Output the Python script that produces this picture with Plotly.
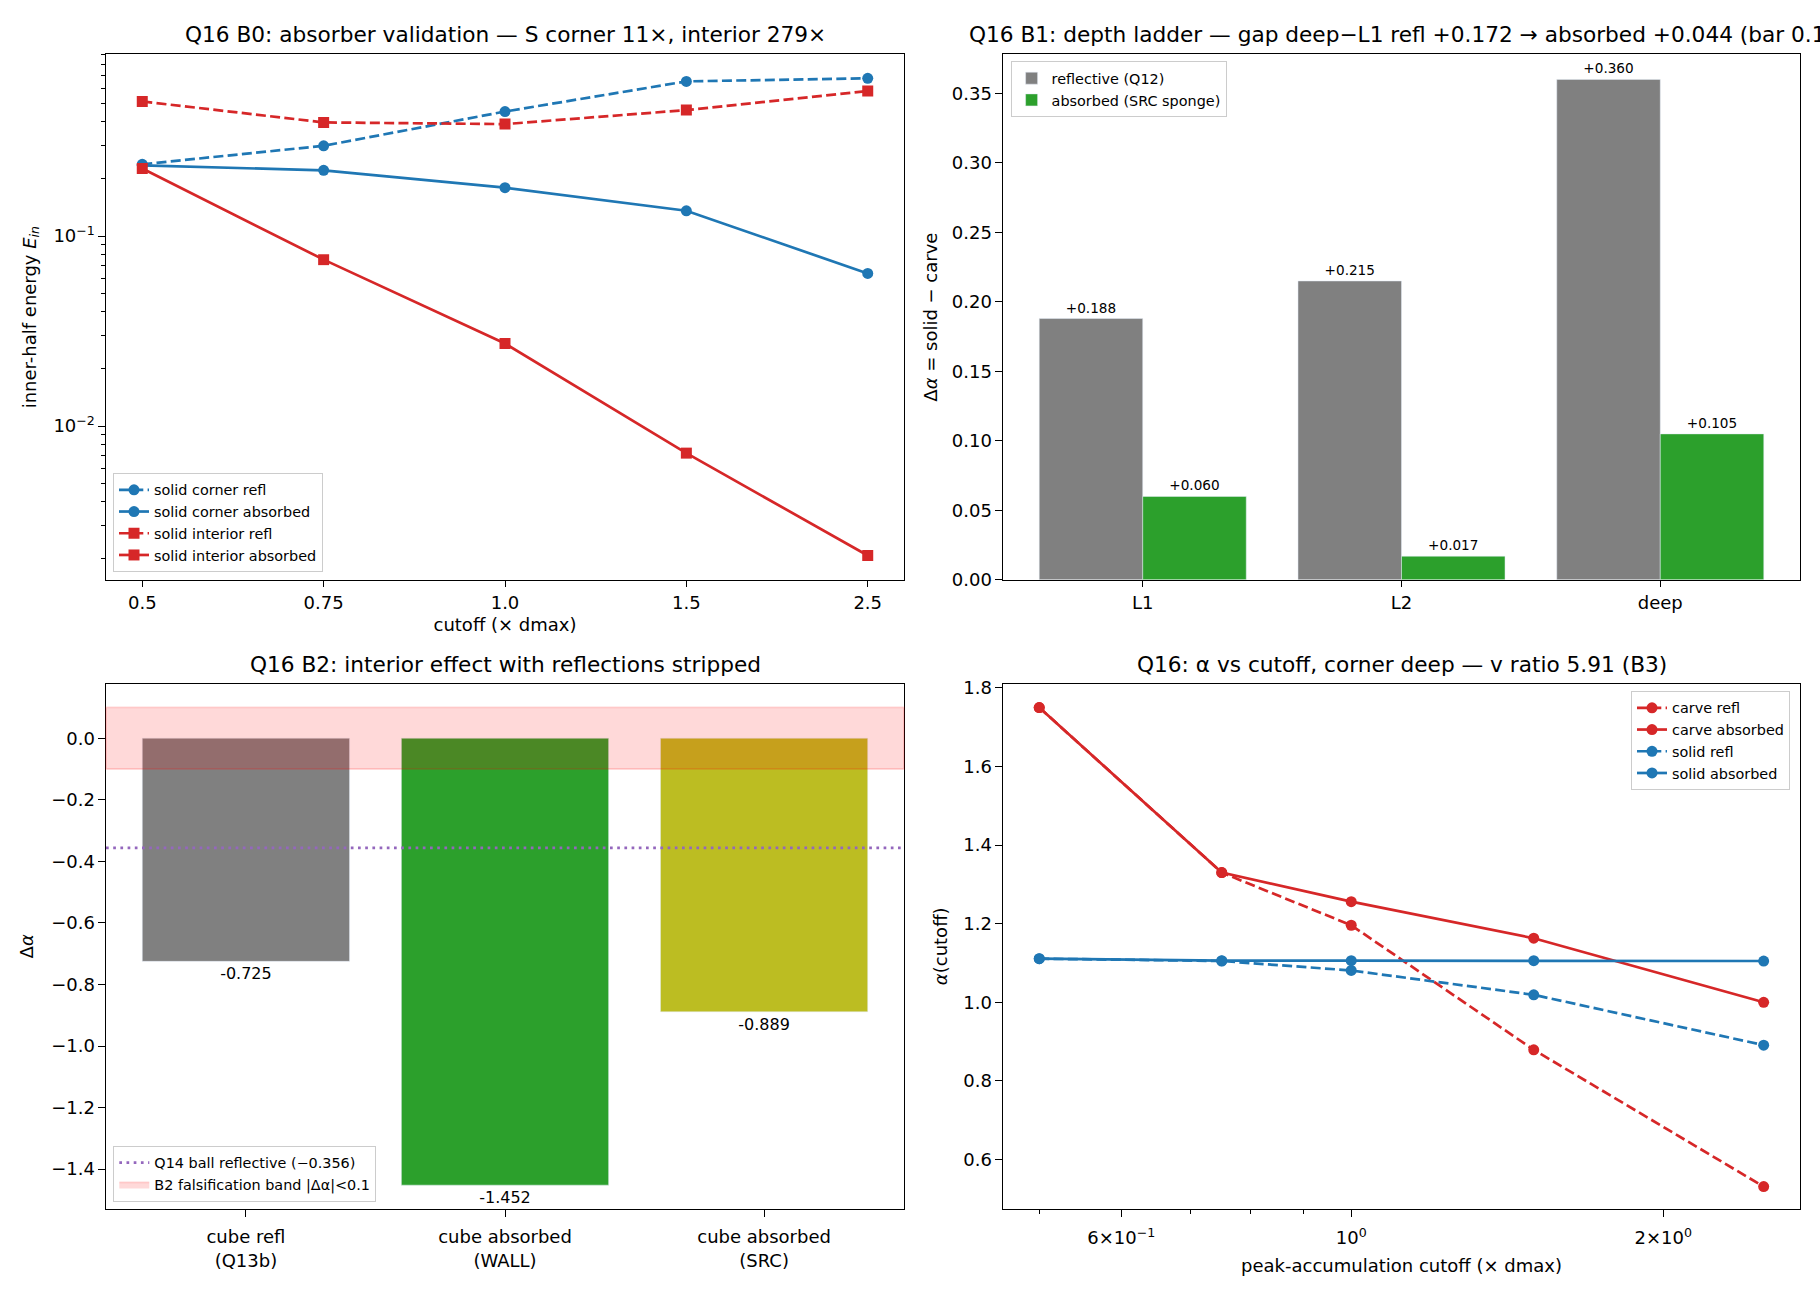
import plotly.graph_objects as go

# ---------------- data ----------------
cutoff_labels = ["0.5", "0.75", "1.0", "1.5", "2.5"]
cutoffs = [0.5, 0.75, 1.0, 1.5, 2.5]

corner_refl = [0.239, 0.299, 0.453, 0.653, 0.678]
corner_abs = [0.236, 0.222, 0.180, 0.136, 0.0636]
interior_refl = [0.512, 0.397, 0.389, 0.461, 0.581]
interior_abs = [0.227, 0.0752, 0.0272, 0.00720, 0.00208]

depth_levels = ["L1", "L2", "deep"]
gap_reflective = [0.188, 0.215, 0.360]
gap_absorbed = [0.060, 0.017, 0.105]

b2_cases = ["cube refl\n(Q13b)", "cube absorbed\n(WALL)", "cube absorbed\n(SRC)"]
b2_delta = [-0.725, -1.452, -0.889]
b2_colors = ["#808080", "#2ca02c", "#bcbd22"]
q14_ball_reflective = -0.356
band_half = 0.1

carve_refl = [1.750, 1.330, 1.196, 0.879, 0.531]
carve_abs = [1.750, 1.330, 1.256, 1.163, 1.000]
solid_refl = [1.111, 1.105, 1.081, 1.019, 0.891]
solid_abs = [1.111, 1.106, 1.106, 1.106, 1.105]

# ---------------- style ----------------
FONT = "DejaVu Sans"
W, H = 1820, 1300
BLUE, RED = "#1f77b4", "#d62728"
LW = 2.7
DASH = "10px,4.3px"
DOT = "2.7px,4.5px"
MS = 11

xd_l = [106 / W, 904 / W]
xd_r = [1003 / W, 1800 / W]
yd_t = [1 - 581 / H, 1 - 49 / H]
yd_b = [1 - 1218 / H, 1 - 686 / H]

fig = go.Figure()

# ---- B0: absorber validation ----
def line_trace(x, y, name, color, dash, symbol, xa, ya, legend):
    return go.Scatter(
        x=x, y=y, name=name, mode="lines+markers", xaxis=xa, yaxis=ya, legend=legend,
        line=dict(color=color, width=LW, dash=dash),
        marker=dict(color=color, size=MS, symbol=symbol, line=dict(width=0)),
    )

fig.add_trace(line_trace(cutoff_labels, corner_refl, "solid corner refl", BLUE, DASH, "circle", "x", "y", "legend"))
fig.add_trace(line_trace(cutoff_labels, corner_abs, "solid corner absorbed", BLUE, "solid", "circle", "x", "y", "legend"))
fig.add_trace(line_trace(cutoff_labels, interior_refl, "solid interior refl", RED, DASH, "square", "x", "y", "legend"))
fig.add_trace(line_trace(cutoff_labels, interior_abs, "solid interior absorbed", RED, "solid", "square", "x", "y", "legend"))

# ---- B1: depth ladder ----
fig.add_trace(go.Bar(
    x=depth_levels, y=gap_reflective, name="reflective (Q12)", marker_color="#808080",
    xaxis="x2", yaxis="y2", legend="legend2",
    text=[f"{v:+.3f}" for v in gap_reflective], textposition="outside",
    outsidetextfont=dict(family=FONT, size=13.6, color="black"), cliponaxis=False,
))
fig.add_trace(go.Bar(
    x=depth_levels, y=gap_absorbed, name="absorbed (SRC sponge)", marker_color="#2ca02c",
    xaxis="x2", yaxis="y2", legend="legend2",
    text=[f"{v:+.3f}" for v in gap_absorbed], textposition="outside",
    outsidetextfont=dict(family=FONT, size=13.6, color="black"), cliponaxis=False,
))

# ---- B2: interior effect ----
fig.add_trace(go.Bar(
    x=b2_cases, y=b2_delta, marker_color=b2_colors, showlegend=False,
    xaxis="x3", yaxis="y3",
    text=[f"{v:.3f}" for v in b2_delta], textposition="outside",
    outsidetextfont=dict(family=FONT, size=16, color="black"), cliponaxis=False,
))
fig.add_trace(go.Scatter(
    x=[None], y=[None], mode="lines", name=f"Q14 ball reflective ({q14_ball_reflective:.3f})".replace("-", "\u2212"),
    line=dict(color="#9467bd", width=LW, dash=DOT), xaxis="x3", yaxis="y3", legend="legend3",
))
fig.add_trace(go.Scatter(
    x=[None], y=[None], mode="lines", fill="toself", name=f"B2 falsification band |\u0394\u03b1|<{band_half}",
    fillcolor="rgba(255,0,0,0.15)", line=dict(color="rgba(255,0,0,0.15)", width=1.8),
    xaxis="x3", yaxis="y3", legend="legend3",
))

# ---- B3: alpha vs cutoff ----
fig.add_trace(line_trace(cutoffs, carve_refl, "carve refl", RED, DASH, "circle", "x4", "y4", "legend4"))
fig.add_trace(line_trace(cutoffs, carve_abs, "carve absorbed", RED, "solid", "circle", "x4", "y4", "legend4"))
fig.add_trace(line_trace(cutoffs, solid_refl, "solid refl", BLUE, DASH, "circle", "x4", "y4", "legend4"))
fig.add_trace(line_trace(cutoffs, solid_abs, "solid absorbed", BLUE, "solid", "circle", "x4", "y4", "legend4"))

# ---------------- axes ----------------
def ax(**kw):
    base = dict(
        showline=True, linecolor="black", linewidth=1.44, mirror=True,
        ticks="outside", ticklen=6.3, tickwidth=1.44, tickcolor="black",
        showgrid=False, zeroline=False,
        tickfont=dict(family=FONT, size=18, color="black"),
    )
    base.update(kw)
    return base

def ttl(text, standoff):
    return dict(text=text, font=dict(family=FONT, size=18, color="black"), standoff=standoff)

minor_log_y = [m * 10.0 ** e for e in (-3, -2, -1) for m in range(2, 10)]
minor_log_x = [0.5, 0.7, 0.8, 0.9]

fig.update_layout(
    xaxis=ax(domain=xd_l, anchor="y", type="category", range=[-0.2, 4.2],
             title=ttl("cutoff (\u00d7 dmax)", 6)),
    yaxis=ax(domain=yd_t, anchor="x", type="log", range=[-2.810, -0.043],
             tickvals=[0.01, 0.1], ticktext=["10<sup>\u22122</sup>", "10<sup>\u22121</sup>"],
             minor=dict(tickmode="array", tickvals=minor_log_y, ticks="outside", ticklen=3.6,
                        tickwidth=1.08, tickcolor="black", showgrid=False),
             title=ttl("inner-half energy <i>E</i><sub><i>in</i></sub>", 12)),
    xaxis2=ax(domain=xd_r, anchor="y2", type="category", range=[-0.54, 2.54]),
    yaxis2=ax(domain=yd_t, anchor="x2", range=[0, 0.378], dtick=0.05, tick0=0, tickformat=".2f",
              title=ttl("\u0394<i>\u03b1</i> = solid \u2212 carve", 9)),
    xaxis3=ax(domain=xd_l, anchor="y3", type="category", range=[-0.54, 2.54],
              tickvals=b2_cases, ticktext=[c.replace("\n", "<br>") for c in b2_cases],
              ticklabelstandoff=5),
    yaxis3=ax(domain=yd_b, anchor="x3", range=[-1.5296, 0.1776], dtick=0.2, tick0=0, tickformat=".1f",
              title=ttl("\u0394<i>\u03b1</i>", 12)),
    xaxis4=ax(domain=xd_r, anchor="y4", type="log", range=[-0.336, 0.433],
              tickvals=[0.6, 1, 2], ticktext=["6\u00d710<sup>\u22121</sup>", "10<sup>0</sup>", "2\u00d710<sup>0</sup>"],
              minor=dict(tickmode="array", tickvals=minor_log_x, ticks="outside", ticklen=3.6,
                         tickwidth=1.08, tickcolor="black", showgrid=False),
              ticklabelstandoff=6,
              title=ttl("peak-accumulation cutoff (\u00d7 dmax)", 12)),
    yaxis4=ax(domain=yd_b, anchor="x4", range=[0.474, 1.811], dtick=0.2, tick0=0, tickformat=".1f",
              title=ttl("<i>\u03b1</i>(cutoff)", 10)),
)

# ---------------- band & reference line (B2) ----------------
fig.add_shape(type="rect", xref="x3 domain", yref="y3", x0=0, x1=1, y0=-band_half, y1=band_half,
              fillcolor="rgba(255,0,0,0.15)", line=dict(color="rgba(255,0,0,0.15)", width=1.8), layer="above")
fig.add_shape(type="line", xref="x3 domain", yref="y3", x0=0, x1=1,
              y0=q14_ball_reflective, y1=q14_ball_reflective,
              line=dict(color="#9467bd", width=LW, dash=DOT), layer="above")

# ---------------- titles ----------------
titles = [
    ("Q16 B0: absorber validation \u2014 S corner 11\u00d7, interior 279\u00d7", xd_l, yd_t),
    ("Q16 B1: depth ladder \u2014 gap deep\u2212L1 refl +0.172 \u2192 absorbed +0.044 (bar 0.1)", xd_r, yd_t),
    ("Q16 B2: interior effect with reflections stripped", xd_l, yd_b),
    ("Q16: \u03b1 vs cutoff, corner deep \u2014 v ratio 5.91 (B3)", xd_r, yd_b),
]
for text, xd, yd in titles:
    fig.add_annotation(text=text, xref="paper", yref="paper", x=(xd[0] + xd[1]) / 2, y=yd[1],
                       xanchor="center", yanchor="bottom", yshift=5, showarrow=False,
                       font=dict(family=FONT, size=21.67, color="black"))

leg_common = dict(font=dict(family=FONT, size=14.4, color="black"), bgcolor="rgba(255,255,255,0.8)",
                  bordercolor="#cccccc", borderwidth=1)
fig.update_layout(
    width=W, height=H, autosize=False,
    margin=dict(l=0, r=0, t=0, b=0),
    paper_bgcolor="white", plot_bgcolor="white",
    font=dict(family=FONT, size=18, color="black"),
    barmode="group", bargap=0.2, bargroupgap=0,
    legend=dict(x=113 / W, y=1 - 573 / H, xanchor="left", yanchor="bottom", **leg_common),
    legend2=dict(x=1010.6 / W, y=1 - 56 / H, xanchor="left", yanchor="top", **leg_common),
    legend3=dict(x=113.3 / W, y=1 - 1210.7 / H, xanchor="left", yanchor="bottom", **leg_common),
    legend4=dict(x=1790 / W, y=1 - 693.5 / H, xanchor="right", yanchor="top", **leg_common),
)

fig.write_html("out.html", config={"displayModeBar": False},
               post_script="document.body.style.margin='0px';")
